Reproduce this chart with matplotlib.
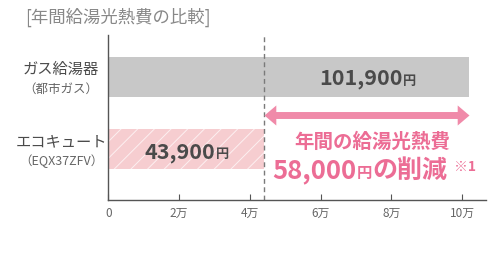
import matplotlib
matplotlib.use("Agg")
import matplotlib.pyplot as plt

plt.rcParams["font.family"] = ["Noto Sans CJK JP", "DejaVu Sans"]
plt.rcParams["hatch.linewidth"] = 0.7

# data
categories = ["エコキュート", "ガス給湯器"]
sub_labels = ["（EQX37ZFV）", "（都市ガス）"]
costs = [43900, 101900]
value_labels = ["43,900", "101,900"]
bar_colors = ["#f6cdd0", "#c8c8c8"]
tick_values = [0, 20000, 40000, 60000, 80000, 100000]
tick_labels = ["0", "2万", "4万", "6万", "8万", "10万"]
title = "[年間給湯光熱費の比較]"
saving_line1 = "年間の給湯光熱費"
saving_value = "58,000"

PINK = "#ec6d95"
ARROW = "#f08aa9"
AXIS = "#555555"
TEXT = "#4a4a4a"

fig = plt.figure(figsize=(4.96, 2.54), dpi=100)
ax = fig.add_axes([108.3 / 496, 54 / 254, 377.7 / 496, 165 / 254])

ypos = [0, 1]
bars = ax.barh(ypos, costs, height=0.555, color=bar_colors, linewidth=0)
bars[0].set_hatch("//")
bars[0].set_edgecolor((1, 1, 1, 0.7))

ax.set_xlim(0, 106700)
ax.set_ylim(-0.708, 1.583)
ax.set_xticks(tick_values)
ax.set_xticklabels(tick_labels, color="#666666", fontsize=8.5)
ax.set_yticks([])
ax.tick_params(axis="x", direction="in", length=4, width=0.8, color=AXIS, pad=5)
for s in ["top", "right"]:
    ax.spines[s].set_visible(False)
for s in ["left", "bottom"]:
    ax.spines[s].set_color(AXIS)
    ax.spines[s].set_linewidth(1.0)

# category labels, centred in the left margin
for y, name, sub in zip(ypos, categories, sub_labels):
    ax.text(-0.125, y + 0.1, name, transform=ax.get_yaxis_transform(),
            ha="center", va="center", fontsize=11, color=TEXT)
    ax.text(-0.125, y - 0.17, sub, transform=ax.get_yaxis_transform(),
            ha="center", va="center", fontsize=9, color="#666666")

# value labels inside bars (right edge of the digits as a share of the bar)
label_pos = [0.686, 0.815]
label_base = [-0.125, 0.89]
for c, f, yb, lab in zip(costs, label_pos, label_base, value_labels):
    ax.text(c * f, yb, lab, ha="right", va="baseline", fontsize=15.5,
            fontweight="bold", color=TEXT)
    ax.text(c * f + 300, yb, "円", ha="left", va="baseline", fontsize=9.5,
            fontweight="bold", color=TEXT)

# dashed reference at eco-cute cost
ax.plot([costs[0], costs[0]], [-0.708, 1.583], ls=(0, (3.5, 2.5)), color="#7a7a7a",
        lw=1.0, clip_on=False)

# saving arrow: shaft + two triangular heads
arrow_y = 0.47
ax.plot([costs[0] + 2500, costs[1] - 2500], [arrow_y, arrow_y], color=ARROW,
        lw=5, solid_capstyle="butt")
left_head = [(0, 0), (1, 0.85), (1, -0.85)]
right_head = [(0, 0), (-1, 0.85), (-1, -0.85)]
ax.plot(costs[0], arrow_y, marker=left_head, markersize=17, color=ARROW, mew=0)
ax.plot(costs[1], arrow_y, marker=right_head, markersize=17, color=ARROW, mew=0)

ax.text(74600, 0.097, saving_line1, ha="center", va="center", fontsize=14,
        fontweight="bold", color=PINK)
ax.text(70000, -0.40, saving_value, ha="right", va="baseline",
        fontsize=18.5, fontweight="bold", color=PINK)
ax.text(70200, -0.40, "円", ha="left", va="baseline",
        fontsize=11, fontweight="bold", color=PINK)
ax.text(74500, -0.40, "の削減", ha="left", va="baseline",
        fontsize=18, fontweight="bold", color=PINK)
ax.text(97700, -0.31, "※1", ha="left", va="baseline",
        fontsize=10, fontweight="bold", color=PINK)

fig.text(25 / 496, 1 - 17 / 254, title, ha="left", va="center", fontsize=12.5,
         color="#888888")

fig.savefig("out.png", dpi=100)
